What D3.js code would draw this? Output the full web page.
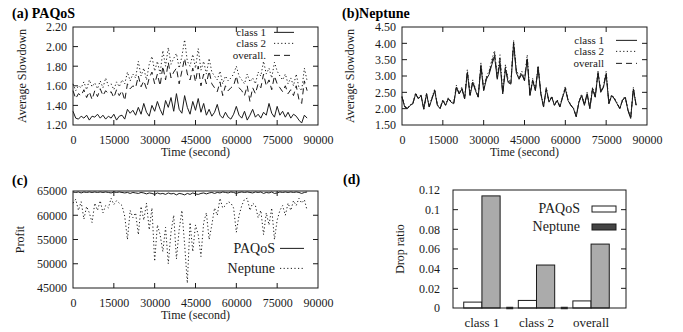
<!DOCTYPE html>
<html>
<head>
<meta charset="utf-8">
<script src="https://cdn.jsdelivr.net/npm/d3@7"></script>
<style>
  body { margin: 0; background: #fff; }
  svg, svg text { font-family: "Liberation Serif", "Times New Roman", serif; }
</style>
</head>
<body>
<div id="chart"></div>
<script>
// sampling step of the time series (seconds)
const sampleStep = 1000;
const timeTicks = [0, 15000, 30000, 45000, 60000, 75000, 90000];

// (a) PAQoS average slowdown
const paqosClass1 = [
  1.34, 1.27, 1.26, 1.29, 1.27, 1.30, 1.25, 1.29, 1.28, 1.31,
  1.27, 1.30, 1.26, 1.29, 1.27, 1.31, 1.25, 1.29, 1.30, 1.26,
  1.36, 1.32, 1.35, 1.30, 1.38, 1.31, 1.42, 1.33, 1.29, 1.40,
  1.34, 1.44, 1.36, 1.30, 1.45, 1.38, 1.48, 1.34, 1.52, 1.36,
  1.32, 1.50, 1.38, 1.31, 1.44, 1.35, 1.47, 1.33, 1.42, 1.30,
  1.36, 1.29, 1.33, 1.41, 1.30, 1.27, 1.33, 1.28, 1.26, 1.31,
  1.39, 1.30, 1.27, 1.34, 1.25, 1.30, 1.36, 1.28, 1.31, 1.27,
  1.33, 1.30, 1.42, 1.32, 1.28, 1.39, 1.30, 1.34, 1.28, 1.33,
  1.27, 1.31, 1.29, 1.25, 1.22, 1.30, 1.27
];
const paqosClass2 = [
  1.62, 1.55, 1.60, 1.58, 1.64, 1.56, 1.66, 1.59, 1.63, 1.57,
  1.65, 1.58, 1.68, 1.60, 1.62, 1.56, 1.64, 1.59, 1.66, 1.62,
  1.74, 1.65, 1.72, 1.68, 1.85, 1.70, 1.78, 1.66, 1.82, 1.90,
  1.75, 1.85, 1.72, 1.96, 1.80, 1.99, 1.82, 1.88, 1.93, 1.78,
  1.90, 2.07, 1.85, 1.80, 1.92, 1.78, 1.98, 1.76, 1.85, 1.72,
  1.88, 1.74, 1.70, 1.66, 1.75, 1.62, 1.70, 1.65, 1.68, 1.72,
  1.80, 1.70, 1.66, 1.62, 1.72, 1.64, 1.68, 1.62, 1.74, 1.70,
  1.85, 1.72, 1.78, 1.68, 1.84, 1.75, 1.70, 1.66, 1.72, 1.62,
  1.68, 1.60, 1.72, 1.58, 1.55, 1.78, 1.65
];
const paqosOverall = [
  1.55, 1.47, 1.52, 1.50, 1.56, 1.48, 1.54, 1.46, 1.55, 1.49,
  1.57, 1.50, 1.55, 1.52, 1.54, 1.48, 1.56, 1.50, 1.55, 1.45,
  1.62, 1.57, 1.60, 1.58, 1.70, 1.59, 1.65, 1.57, 1.68, 1.74,
  1.62, 1.72, 1.60, 1.80, 1.66, 1.84, 1.68, 1.74, 1.78, 1.62,
  1.75, 1.88, 1.72, 1.66, 1.78, 1.64, 1.80, 1.60, 1.72, 1.62,
  1.75, 1.62, 1.58, 1.54, 1.64, 1.50, 1.60, 1.55, 1.58, 1.60,
  1.70, 1.58, 1.55, 1.50, 1.60, 1.44, 1.58, 1.52, 1.62, 1.58,
  1.72, 1.60, 1.66, 1.56, 1.70, 1.62, 1.58, 1.54, 1.60, 1.52,
  1.56, 1.50, 1.60, 1.46, 1.42, 1.65, 1.55
];
const paqosYTicks = [1.2, 1.4, 1.6, 1.8, 2.0, 2.2];

// (b) Neptune average slowdown
const neptuneClass1 = [
  2.35, 2.05, 2.00, 2.10, 2.15, 2.45, 2.30, 2.40, 1.98, 2.45,
  2.05, 2.30, 2.55, 2.10, 2.00, 2.25, 2.10, 2.30, 2.20, 2.15,
  2.65, 2.45, 2.60, 2.30, 3.10, 2.40, 2.80, 2.55, 2.35, 3.30,
  2.55, 2.90, 3.05, 3.35, 3.60, 2.90, 3.40, 2.45, 3.20, 2.80,
  2.75, 4.00, 3.10, 2.90, 3.05, 2.85, 3.50, 2.40, 2.85, 2.55,
  3.25, 2.45, 2.05, 2.60, 2.20, 2.35, 2.10, 2.25, 2.05, 2.35,
  2.60, 2.25, 2.10, 2.00, 1.75, 2.20, 2.40, 2.10, 2.45, 2.00,
  2.60, 2.35, 3.10, 2.50, 2.65, 3.05, 2.15, 2.40, 2.30, 2.15,
  2.00, 2.25, 2.35, 1.95, 1.70, 2.60, 2.10
];
const neptuneClass2 = [
  2.38, 2.08, 2.02, 2.12, 2.18, 2.48, 2.33, 2.43, 2.00, 2.48,
  2.08, 2.33, 2.60, 2.12, 2.02, 2.28, 2.12, 2.33, 2.23, 2.18,
  2.72, 2.48, 2.66, 2.33, 3.20, 2.45, 2.88, 2.60, 2.38, 3.40,
  2.60, 2.98, 3.15, 3.50, 3.78, 2.98, 3.65, 2.50, 3.35, 2.88,
  2.82, 4.08, 3.20, 2.98, 3.15, 2.92, 3.65, 2.45, 2.92, 2.60,
  3.32, 2.50, 2.08, 2.65, 2.23, 2.38, 2.12, 2.28, 2.08, 2.38,
  2.68, 2.28, 2.12, 2.02, 1.78, 2.23, 2.45, 2.12, 2.50, 2.02,
  2.66, 2.38, 3.15, 2.55, 2.70, 3.15, 2.18, 2.43, 2.33, 2.18,
  2.02, 2.28, 2.38, 1.98, 1.72, 2.65, 2.12
];
const neptuneOverall = [
  2.36, 2.06, 2.01, 2.11, 2.16, 2.46, 2.31, 2.41, 1.99, 2.46,
  2.06, 2.31, 2.57, 2.11, 2.01, 2.26, 2.11, 2.31, 2.21, 2.16,
  2.68, 2.46, 2.63, 2.31, 3.15, 2.42, 2.84, 2.57, 2.36, 3.35,
  2.57, 2.94, 3.10, 3.42, 3.70, 2.94, 3.52, 2.47, 3.28, 2.84,
  2.78, 4.04, 3.15, 2.94, 3.10, 2.88, 3.58, 2.42, 2.88, 2.57,
  3.28, 2.47, 2.06, 2.62, 2.21, 2.36, 2.11, 2.26, 2.06, 2.36,
  2.64, 2.26, 2.11, 2.01, 1.76, 2.21, 2.42, 2.11, 2.47, 2.01,
  2.63, 2.36, 3.12, 2.52, 2.67, 3.10, 2.16, 2.41, 2.31, 2.16,
  2.01, 2.26, 2.36, 1.96, 1.71, 2.62, 2.11
];
const neptuneYTicks = [1.5, 2.0, 2.5, 3.0, 3.5, 4.0, 4.5];

// (c) profit
const profitPaqos = [
  64800, 64700, 64800, 64600, 64800, 64700, 64800, 64700, 64800, 64700,
  64800, 64700, 64800, 64700, 64600, 64800, 64700, 64800, 64700, 64600,
  64700, 64500, 64700, 64600, 64500, 64700, 64600, 64400, 64600, 64500,
  64300, 64600, 64400, 64500, 64300, 64600, 64400, 64500, 64200, 64500,
  64400, 64200, 64500, 64300, 64600, 64400, 64300, 64500, 64600, 64400,
  64600, 64700, 64500, 64700, 64600, 64800, 64700, 64600, 64800, 64700,
  64500, 64700, 64800, 64700, 64800, 64700, 64600, 64800, 64700, 64800,
  64500, 64700, 64600, 64800, 64500, 64600, 64800, 64700, 64800, 64700,
  64800, 64700, 64800, 64700, 64500, 64700, 64800
];
const profitNeptune = [
  62500, 63300, 61000, 62800, 59200, 61800, 60500, 58500, 62500, 61000,
  63000, 60500, 62000, 61500, 63500, 62200, 63000, 62500, 62000, 59800,
  55000, 61000, 59500, 60500, 56000, 61800, 59000, 62500, 57000, 61500,
  50500, 58000, 56000, 52500, 57500, 50000, 56500, 60000, 51000, 57000,
  61000, 54000, 46000, 58500, 52500, 58000, 56000, 51500, 58500, 60500,
  55000, 58000, 61500, 60000, 63500, 61500, 62000, 62800, 62500, 61500,
  56500, 60000, 62000, 63300, 63500, 61000, 62500, 62000, 59500, 61000,
  56000, 60500, 58000, 61500, 55000, 59000, 61000, 62000, 60000, 62500,
  61000, 63000, 62000, 63500, 62500, 63200, 61000
];
const profitYTicks = [45000, 50000, 55000, 60000, 65000];

// (d) drop ratio
const dropCategories = ["class 1", "class 2", "overall"];
const dropPaqos = [0.006, 0.0077, 0.0072];
const dropNeptune = [0.114, 0.0437, 0.065];
const dropYTicks = [0, 0.02, 0.04, 0.06, 0.08, 0.1, 0.12];

const W = 683, H = 332;
const ink = "#1a1a1a";
const serif = "Liberation Serif";
const solid = null, dotted = "1.2 2.4", dashed = "6 4";

const svg = d3.select("#chart").append("svg")
  .attr("width", W).attr("height", H)
  .attr("font-family", serif);
svg.append("rect").attr("width", W).attr("height", H).attr("fill", "#fff");

function frame(g, box) {
  g.append("rect")
    .attr("x", box.left).attr("y", box.top)
    .attr("width", box.right - box.left).attr("height", box.bottom - box.top)
    .attr("fill", "none").attr("stroke", ink).attr("stroke-width", 1);
}

function axes(g, box, x, y, xTicks, yTicks, yFmt, xLabel, yLabel, yLabelX) {
  const tick = 5;
  if (xTicks) {
    const xa = g.append("g").attr("transform", `translate(0,${box.bottom})`)
      .call(d3.axisBottom(x).tickValues(xTicks).tickSize(0).tickPadding(10).tickFormat(d3.format("d")))
      .attr("font-family", serif);
    xa.select(".domain").remove();
    xa.selectAll("text").attr("font-size", 12).attr("fill", ink);
    xTicks.forEach(t => {
      if (t === x.domain()[0] || t === x.domain()[1]) return;
      g.append("line").attr("x1", x(t)).attr("x2", x(t)).attr("y1", box.bottom).attr("y2", box.bottom - tick).attr("stroke", ink);
      g.append("line").attr("x1", x(t)).attr("x2", x(t)).attr("y1", box.top).attr("y2", box.top + tick).attr("stroke", ink);
    });
  }
  const ya = g.append("g").attr("transform", `translate(${box.left},0)`)
    .call(d3.axisLeft(y).tickValues(yTicks).tickSize(0).tickPadding(box.yPad || 6).tickFormat(yFmt))
    .attr("font-family", serif);
  ya.select(".domain").remove();
  ya.selectAll("text").attr("font-size", 12).attr("fill", ink);
  yTicks.forEach(t => {
    if (t === y.domain()[0] || t === y.domain()[1]) return;
    g.append("line").attr("x1", box.left).attr("x2", box.left + tick).attr("y1", y(t)).attr("y2", y(t)).attr("stroke", ink);
    g.append("line").attr("x1", box.right).attr("x2", box.right - tick).attr("y1", y(t)).attr("y2", y(t)).attr("stroke", ink);
  });
  if (xLabel) {
    g.append("text").attr("x", (box.left + box.right) / 2).attr("y", box.bottom + 31)
      .attr("text-anchor", "middle").attr("font-size", 12).attr("fill", ink).text(xLabel);
  }
  g.append("text")
    .attr("transform", `translate(${yLabelX},${(box.top + box.bottom) / 2}) rotate(-90)`)
    .attr("text-anchor", "middle").attr("dominant-baseline", "central")
    .attr("font-size", 12).attr("fill", ink).text(yLabel);
}

function title(text, x, y) {
  svg.append("text").attr("x", x).attr("y", y)
    .attr("font-size", 14).attr("font-weight", "bold").attr("fill", "#000").text(text);
}

function series(g, x, y, values, dash) {
  const line = d3.line().x((d, i) => x(i * sampleStep)).y(d => y(d));
  g.append("path").datum(values).attr("d", line)
    .attr("fill", "none").attr("stroke", ink).attr("stroke-width", 1)
    .attr("stroke-dasharray", dash);
}

function legend(g, items, textRight, x1, x2, size) {
  items.forEach(it => {
    g.append("text").attr("x", textRight).attr("y", it.y).attr("text-anchor", "end")
      .attr("font-size", size).attr("fill", ink).text(it.label);
    g.append("line").attr("x1", x1).attr("x2", x2).attr("y1", it.y - size * 0.33).attr("y2", it.y - size * 0.33)
      .attr("stroke", ink).attr("stroke-width", 1).attr("stroke-dasharray", it.dash);
  });
}

// ---- panel (a)
{
  const box = {left: 73, right: 318, top: 27, bottom: 125};
  const g = svg.append("g");
  const x = d3.scaleLinear().domain([0, 90000]).range([box.left, box.right]);
  const y = d3.scaleLinear().domain([1.2, 2.2]).range([box.bottom, box.top]);
  series(g, x, y, paqosClass2, dotted);
  series(g, x, y, paqosOverall, dashed);
  series(g, x, y, paqosClass1, solid);
  frame(g, box);
  axes(g, box, x, y, timeTicks, paqosYTicks, d3.format(".2f"), "Time (second)", "Average Slowdown", 22);
  legend(g, [
    {label: "class 1", y: 36, dash: solid},
    {label: "class 2", y: 47, dash: dotted},
    {label: "overall.", y: 59, dash: dashed}
  ], 266, 274, 294, 11);
  title("(a) PAQoS", 12, 18);
}

// ---- panel (b)
{
  const box = {left: 402, right: 647, top: 27, bottom: 125};
  const g = svg.append("g");
  const x = d3.scaleLinear().domain([0, 90000]).range([box.left, box.right]);
  const y = d3.scaleLinear().domain([1.5, 4.5]).range([box.bottom, box.top]);
  series(g, x, y, neptuneClass2, dotted);
  series(g, x, y, neptuneOverall, dashed);
  series(g, x, y, neptuneClass1, solid);
  frame(g, box);
  axes(g, box, x, y, timeTicks, neptuneYTicks, d3.format(".2f"), "Time (second)", "Average Slowdown", 350);
  legend(g, [
    {label: "class 1", y: 44, dash: solid},
    {label: "class 2", y: 55, dash: dotted},
    {label: "overall", y: 67, dash: dashed}
  ], 604, 616, 637, 11);
  title("(b)Neptune", 342, 18);
}

// ---- panel (c)
{
  const box = {left: 73, right: 318, top: 191, bottom: 288};
  const g = svg.append("g");
  const x = d3.scaleLinear().domain([0, 90000]).range([box.left, box.right]);
  const y = d3.scaleLinear().domain([45000, 65000]).range([box.bottom, box.top]);
  series(g, x, y, profitNeptune, dotted);
  series(g, x, y, profitPaqos, solid);
  frame(g, box);
  axes(g, box, x, y, timeTicks, profitYTicks, d3.format("d"), "Time (second)", "Profit", 20);
  legend(g, [
    {label: "PAQoS", y: 253, dash: solid},
    {label: "Neptune", y: 273, dash: dotted}
  ], 275, 280, 304, 14);
  title("(c)", 12, 185);
}

// ---- panel (d)
{
  const box = {left: 453, right: 626, top: 190, bottom: 308, yPad: 13};
  const g = svg.append("g");
  const x = d3.scaleLinear().domain([-0.53, 2.64]).range([box.left, box.right]);
  const y = d3.scaleLinear().domain([0, 0.12]).range([box.bottom, box.top]);
  const bw = x(1 / 3) - x(0);
  const groups = dropCategories.map((c, i) => ({c, i, p: dropPaqos[i], n: dropNeptune[i]}));

  g.selectAll("rect.paqos").data(groups).join("rect")
    .attr("x", d => x(d.i) - bw).attr("y", d => y(d.p))
    .attr("width", bw).attr("height", d => y(0) - y(d.p))
    .attr("fill", "#fff").attr("stroke", ink).attr("stroke-width", 1);
  g.selectAll("rect.neptune").data(groups).join("rect")
    .attr("x", d => x(d.i)).attr("y", d => y(d.n))
    .attr("width", bw).attr("height", d => y(0) - y(d.n))
    .attr("fill", "#ababab").attr("stroke", ink).attr("stroke-width", 1);
  // small dark marks on the baseline between groups
  [0.5, 1.5].forEach(v => {
    g.append("line").attr("x1", x(v) - 3).attr("x2", x(v) + 4)
      .attr("y1", box.bottom).attr("y2", box.bottom).attr("stroke", "#333").attr("stroke-width", 2.5);
  });

  frame(g, box);
  axes(g, box, x, y, null, dropYTicks, d => d === 0 ? "0" : d3.format("")(+d.toFixed(2)), null, "Drop ratio", 400);
  g.selectAll("text.cat").data(groups).join("text")
    .attr("x", d => x(d.i)).attr("y", 327).attr("text-anchor", "middle")
    .attr("font-size", 13).attr("fill", ink).text(d => d.c);

  // legend
  [{label: "PAQoS", y: 213, fill: "#fff"}, {label: "Neptune", y: 231, fill: "#444"}].forEach(it => {
    g.append("text").attr("x", 580).attr("y", it.y).attr("text-anchor", "end")
      .attr("font-size", 14).attr("fill", ink).text(it.label);
    g.append("rect").attr("x", 592).attr("y", it.y - 7).attr("width", 24).attr("height", 6)
      .attr("fill", it.fill).attr("stroke", ink).attr("stroke-width", 1);
  });
  title("(d)", 343, 184);
}
</script>
</body>
</html>
